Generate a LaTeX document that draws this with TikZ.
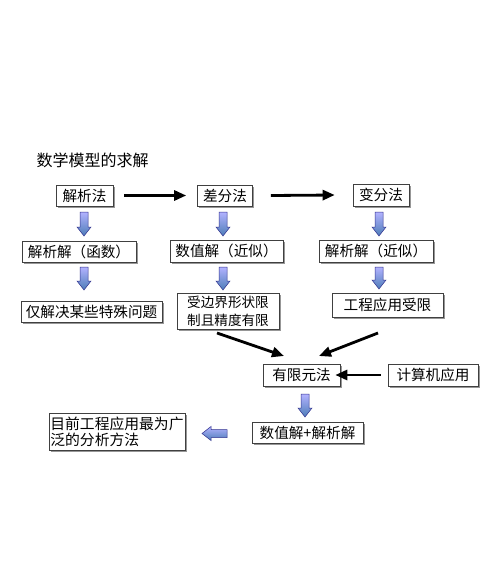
\documentclass[tikz,border=0pt]{standalone}
\usepackage{fontspec}
\newfontfamily\cjk{Noto Sans CJK SC}
\usetikzlibrary{shadows,arrows.meta}
\tikzset{
  box/.style={draw=black!75, line width=0.6pt, fill=white, inner sep=1.5pt,
    font=\cjk\fontsize{14.6}{16}\selectfont,
    drop shadow={shadow xshift=1.6pt, shadow yshift=-1.6pt, fill=black!45, opacity=0.9}},
  conn/.style={line width=2.8pt, -{Triangle[length=12pt,width=10pt]}},
  blk/.style={draw=blue!45!black!80, line width=0.5pt, left color=blue!30!white, right color=blue!55!cyan!60!black!70, shading angle=0}
}
\newcommand{\dblock}[3]{\draw[blk] (#1-4,#2) -- (#1+4,#2) -- (#1+4,#3-9) -- (#1+7,#3-9) -- (#1,#3) -- (#1-7,#3-9) -- (#1-4,#3-9) -- cycle;}
\begin{document}
\begin{tikzpicture}[x=1pt,y=-1pt]
\useasboundingbox[fill=white] (0,0) rectangle (496,579);
\node[font=\cjk\fontsize{16}{17}\selectfont, anchor=west] (title) at (33,160) {数学模型的求解};
% row 1
\node[box, minimum width=57pt, minimum height=21pt] (jx) at (84.5,195.5) {解析法};
\node[box, minimum width=55pt, minimum height=21pt] (cf) at (225,195.5) {差分法};
\node[box, minimum width=56pt, minimum height=22pt] (bf) at (381,195) {变分法};
% row 2
\node[box, minimum width=114pt, minimum height=21pt] (r2a) at (79,251.5) {解析解（函数）};
\node[box, minimum width=113pt, minimum height=22pt] (r2b) at (226.5,251) {数值解（近似）};
\node[box, minimum width=114pt, minimum height=22pt] (r2c) at (376,251) {解析解（近似）};
% row 3
\node[box, minimum width=141pt, minimum height=21pt] (r3a) at (91.5,311.5) {仅解决某些特殊问题};
\node[box, minimum width=102pt, minimum height=36pt, align=left, font=\cjk\fontsize{13.6}{18}\selectfont] (r3b) at (228,311) {受边界形状限\\制且精度有限};
\node[box, minimum width=111pt, minimum height=24pt] (r3c) at (387.5,305) {工程应用受限};
% fem
\node[box, minimum width=77pt, minimum height=22pt] (fem) at (301.5,375) {有限元法};
\node[box, minimum width=90pt, minimum height=22pt] (comp) at (433,375) {计算机应用};
\node[box, minimum width=111pt, minimum height=21pt] (res) at (307.5,432.5) {数值解+解析解};
\node[box, minimum width=130pt, minimum height=37pt, align=left, font=\cjk\fontsize{14.8}{16}\selectfont] (fin) at (117,431.5) {目前工程应用最为广\\泛的分析方法};
% black connectors
\draw[conn] ([xshift=11pt]jx.east) -- ([xshift=-11pt]cf.west);
\draw[conn] ([xshift=18pt]cf.east) -- ([xshift=-18pt]bf.west);
\coordinate (s1) at (217,333);
\coordinate (e1) at (284,356);
\coordinate (s2) at (378,333);
\coordinate (e2) at (319,356);
\draw[conn] (s1) -- (e1);
\draw[conn] (s2) -- (e2);
\draw[conn] ([xshift=-7pt]comp.west) -- ([xshift=-5pt]fem.east);
% block arrows
\dblock{84}{212}{236}
\dblock{223}{212}{236}
\dblock{379}{212}{236}
\dblock{84}{267}{290}
\dblock{223}{267}{290}
\dblock{379}{267}{289}
\dblock{305}{394}{417}
\draw[blk] (227,429.5) -- (227,437.5) -- (211,437.5) -- (211,440.5) -- (202,433.5) -- (211,426.5) -- (211,429.5) -- cycle;
\end{tikzpicture}
\end{document}
